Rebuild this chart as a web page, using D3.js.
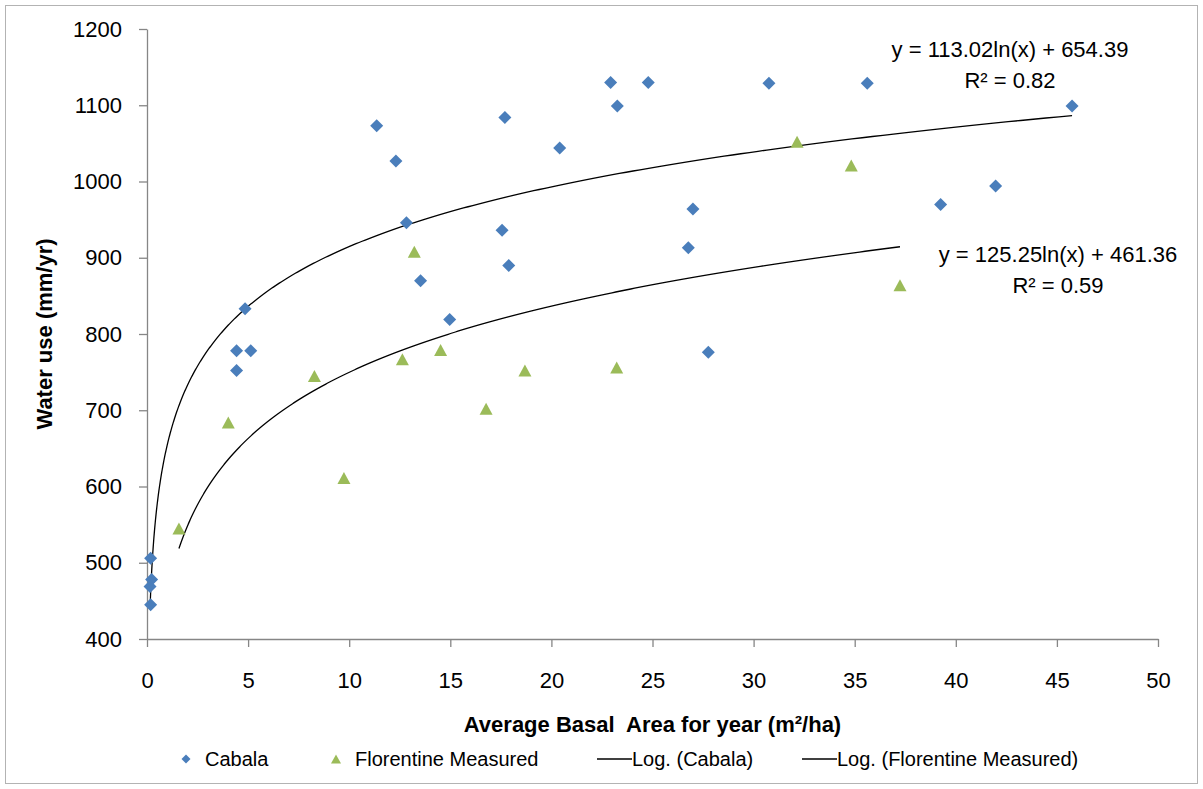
<!DOCTYPE html>
<html>
<head>
<meta charset="utf-8">
<script src="https://cdn.jsdelivr.net/npm/d3@7"></script>
<style>
  html, body { margin: 0; padding: 0; background: #fff; }
  svg { display: block; font-family: "Liberation Sans", Arial, sans-serif; }
</style>
</head>
<body>
<svg id="chart" width="1203" height="789"></svg>
<script>
// Basal area (m²/ha) and annual water use (mm/yr)
const cabalaX = [0.18, 0.23, 0.15, 0.18, 4.85, 4.43, 5.13, 4.43, 11.36, 12.31, 17.70, 22.93, 24.79, 23.26,
                 20.41, 12.83, 17.56, 17.89, 13.53, 14.97, 27.00, 26.77, 27.76, 30.76, 35.62, 45.75, 41.97, 39.25];
const cabalaY = [506, 478, 469, 445, 833, 778, 778, 752, 1073, 1027, 1084, 1130, 1130, 1099,
                 1044, 946, 936, 890, 870, 819, 964, 913, 776, 1129, 1129, 1099, 994, 970];

const florentineX = [1.58, 4.02, 8.28, 9.74, 13.22, 12.63, 14.52, 18.69, 16.77, 23.23, 32.15, 34.83, 37.24];
const florentineY = [545, 684, 745, 611, 908, 767, 779, 752, 702, 756, 1052, 1021, 864];

// Logarithmic trend coefficients: y = a ln(x) + b
const cabalaFit = { a: 113.02, b: 654.39, r2: 0.82 };
const florentineFit = { a: 125.25, b: 461.36, r2: 0.59 };

const xTicks = [0, 5, 10, 15, 20, 25, 30, 35, 40, 45, 50];
const yTicks = [400, 500, 600, 700, 800, 900, 1000, 1100, 1200];

const legendItems = ["Cabala", "Florentine Measured", "Log. (Cabala)", "Log. (Florentine Measured)"];

const BLUE = "#4a7ebb", GREEN = "#9bbb59", AXIS = "#868686";

const svg = d3.select("#chart");
const plot = { left: 147, right: 1158, top: 29, bottom: 639 };

const x = d3.scaleLinear().domain([0, 50]).range([plot.left, plot.right]);
const y = d3.scaleLinear().domain([400, 1200]).range([plot.bottom, plot.top]);

// outer chart frame
svg.append("rect")
  .attr("x", 5.5).attr("y", 5.5).attr("width", 1192).attr("height", 778)
  .attr("fill", "none").attr("stroke", "#b3b3b3").attr("stroke-width", 1);

// axes
const yAxis = d3.axisLeft(y).tickValues(yTicks).tickFormat(d3.format("d"))
  .tickSize(8).tickSizeOuter(0).tickPadding(17);
const xAxis = d3.axisBottom(x).tickValues(xTicks).tickFormat(d3.format("d"))
  .tickSize(8).tickSizeOuter(0).tickPadding(25);

const gy = svg.append("g").attr("transform", `translate(${plot.left},0)`).call(yAxis);
const gx = svg.append("g").attr("transform", `translate(0,${plot.bottom})`).call(xAxis);

[gx, gy].forEach(g => {
  g.selectAll("path.domain").attr("stroke", AXIS).attr("stroke-width", 1.3);
  g.selectAll(".tick line").attr("stroke", AXIS).attr("stroke-width", 1.3);
  g.selectAll(".tick text").attr("fill", "#000").style("font-size", "22px")
    .style("font-family", '"Liberation Sans", Arial, sans-serif');
});

// axis titles
svg.append("text")
  .attr("x", (plot.left + plot.right) / 2).attr("y", 732)
  .attr("text-anchor", "middle").style("font-size", "22px").style("font-weight", "bold")
  .style("white-space", "pre").attr("xml:space", "preserve")
  .text("Average Basal  Area for year (m²/ha)");

svg.append("text")
  .attr("transform", `translate(52,${(plot.top + plot.bottom) / 2}) rotate(-90)`)
  .attr("text-anchor", "middle").style("font-size", "22px").style("font-weight", "bold")
  .text("Water use (mm/yr)");

// trend curves sampled across each series' x range
function trend(fit, xs) {
  const lo = d3.min(xs), hi = d3.max(xs);
  return d3.range(0, 401).map(i => {
    const t = lo * Math.pow(hi / lo, i / 400);
    return [t, fit.a * Math.log(t) + fit.b];
  });
}
const line = d3.line().x(d => x(d[0])).y(d => y(d[1]));

svg.append("path").datum(trend(cabalaFit, cabalaX))
  .attr("d", line).attr("fill", "none").attr("stroke", "#000").attr("stroke-width", 1.3);
svg.append("path").datum(trend(florentineFit, florentineX))
  .attr("d", line).attr("fill", "none").attr("stroke", "#000").attr("stroke-width", 1.3);

// markers
const diamond = s => `M0,${-s}L${s},0L0,${s}L${-s},0Z`;
const triangle = (w, h) => `M0,${-h / 2}L${w / 2},${h / 2}L${-w / 2},${h / 2}Z`;

svg.append("g").selectAll("path")
  .data(d3.zip(florentineX, florentineY))
  .join("path")
  .attr("d", triangle(13, 12))
  .attr("transform", d => `translate(${x(d[0])},${y(d[1])})`)
  .attr("fill", GREEN);

svg.append("g").selectAll("path")
  .data(d3.zip(cabalaX, cabalaY))
  .join("path")
  .attr("d", diamond(6.5))
  .attr("transform", d => `translate(${x(d[0])},${y(d[1])})`)
  .attr("fill", BLUE);

// equation labels
const fmt = d3.format(".2f");
function eqLabel(fit, cx, by) {
  svg.append("text").attr("x", cx).attr("y", by).attr("text-anchor", "middle")
    .style("font-size", "22px").text(`y = ${fmt(fit.a)}ln(x) + ${fmt(fit.b)}`);
  svg.append("text").attr("x", cx).attr("y", by + 31).attr("text-anchor", "middle")
    .style("font-size", "22px").text(`R² = ${fmt(fit.r2)}`);
}
eqLabel(cabalaFit, 1010, 57);
eqLabel(florentineFit, 1058, 262);

// legend
const ly = 759;
const lg = svg.append("g").style("font-size", "20px");
lg.append("path").attr("d", diamond(4.5)).attr("transform", `translate(186,${ly})`).attr("fill", BLUE);
lg.append("text").attr("x", 205).attr("y", ly + 7).text(legendItems[0]);
lg.append("path").attr("d", triangle(10, 9)).attr("transform", `translate(336,${ly})`).attr("fill", GREEN);
lg.append("text").attr("x", 355).attr("y", ly + 7).text(legendItems[1]);
lg.append("line").attr("x1", 597).attr("x2", 632).attr("y1", ly).attr("y2", ly).attr("stroke", "#000").attr("stroke-width", 1.3);
lg.append("text").attr("x", 632).attr("y", ly + 7).text(legendItems[2]);
lg.append("line").attr("x1", 802).attr("x2", 837).attr("y1", ly).attr("y2", ly).attr("stroke", "#000").attr("stroke-width", 1.3);
lg.append("text").attr("x", 837).attr("y", ly + 7).text(legendItems[3]);
</script>
</body>
</html>
